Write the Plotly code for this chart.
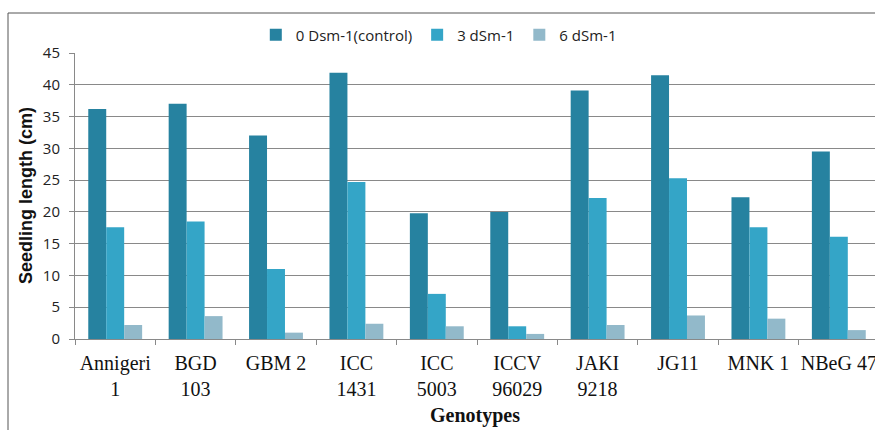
import plotly.graph_objects as go

genotypes = ["Annigeri<br>1", "BGD<br>103", "GBM 2", "ICC<br>1431", "ICC<br>5003",
             "ICCV<br>96029", "JAKI<br>9218", "JG11", "MNK 1", "NBeG 47"]
series_names = ["0 Dsm-1(control)", "3 dSm-1", "6 dSm-1"]
control_0 = [36.2, 37.0, 32.0, 41.9, 19.8, 20.0, 39.1, 41.5, 22.3, 29.5]
salt_3 = [17.6, 18.5, 11.0, 24.7, 7.1, 2.0, 22.2, 25.3, 17.6, 16.1]
salt_6 = [2.2, 3.6, 1.0, 2.4, 2.0, 0.8, 2.2, 3.7, 3.2, 1.4]
colors = ["#2682A0", "#34A5C7", "#92B9CA"]
y_ticks = [0, 5, 10, 15, 20, 25, 30, 35, 40, 45]
x_title = "Genotypes"
y_title = "Seedling length (cm)"

fig = go.Figure()
for name, vals, col in zip(series_names, [control_0, salt_3, salt_6], colors):
    fig.add_trace(go.Bar(x=genotypes, y=vals, name=name,
                         marker=dict(color=col, line=dict(width=0))))

grid = "#898989"
fig.update_layout(
    width=875, height=430,
    margin=dict(l=75, r=0, t=53, b=91),
    paper_bgcolor="white", plot_bgcolor="white",
    barmode="group", bargap=0.33, bargroupgap=0,
    showlegend=True,
    legend=dict(orientation="h", x=0.226, y=1.063, xanchor="left", yanchor="middle",
                font=dict(family="Open Sans", size=15, color="#222"),
                itemwidth=30, tracegroupgap=0, bgcolor="rgba(0,0,0,0)"),
    xaxis=dict(range=[-0.5, 9.45], showgrid=False, showline=True, linecolor=grid, linewidth=1,
               ticks="outside", tickson="boundaries", ticklen=5, tickcolor=grid,
               ticklabelstandoff=6, tickangle=0, automargin=False,
               tickfont=dict(family="Liberation Serif", size=20, color="#111"),
               fixedrange=True),
    yaxis=dict(range=[0, 45], tickvals=y_ticks, showgrid=True, gridcolor=grid, gridwidth=1,
               showline=True, linecolor=grid, linewidth=1, ticks="outside", ticklen=5,
               tickcolor=grid, zeroline=False, ticklabelstandoff=6, automargin=False,
               tickfont=dict(family="Open Sans", size=15, color="#222"),
               fixedrange=True),
    annotations=[
        dict(text="<b>" + x_title + "</b>", xref="paper", yref="paper",
             x=0.5, y=(339 - 415) / 286, xanchor="center", yanchor="middle", showarrow=False,
             font=dict(family="Liberation Serif", size=20, color="#111")),
        dict(text="<b>" + y_title + "</b>", xref="paper", yref="paper",
             x=(26 - 75) / 800, y=0.5, xanchor="center", yanchor="middle", showarrow=False,
             textangle=-90, font=dict(family="Liberation Sans", size=18, color="#111")),
    ],
    shapes=[dict(type="rect", xref="paper", yref="paper",
                 x0=-67/800, x1=1.2, y0=-0.6, y1=(339-13)/286,
                 line=dict(color="#555555", width=1), fillcolor="rgba(0,0,0,0)", layer="below")],
)

fig.write_html("out.html", config={"displayModeBar": False},
               post_script="document.body.style.margin='0';document.body.style.overflow='hidden';")
